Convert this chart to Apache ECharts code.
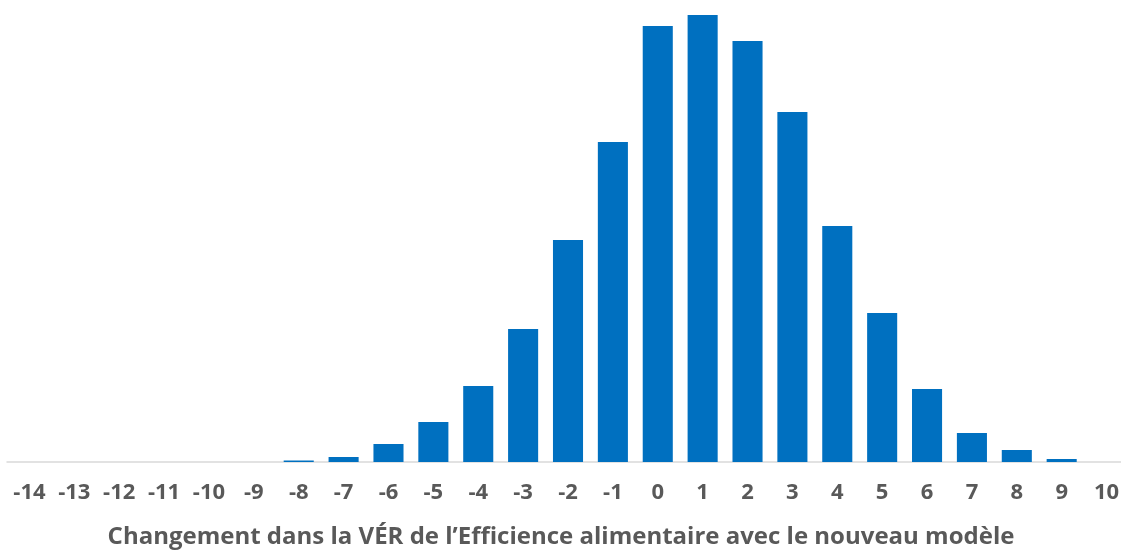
<!DOCTYPE html>
<html><head><meta charset="utf-8">
<script src="https://cdn.jsdelivr.net/npm/echarts@6/dist/echarts.min.js"></script>
<style>html,body{margin:0;padding:0;background:#fff}#c{width:1121px;height:552px}</style>
</head><body><div id="c"></div>
<script>
const categories = ['-14','-13','-12','-11','-10','-9','-8','-7','-6','-5','-4','-3','-2','-1','0','1','2','3','4','5','6','7','8','9','10'];
const values = [0,0,0,0,0,0,1.5,5,18,40,76,133,222,320,436,447,421,350,236,149,73,29,12,3,0];
const axisTitle = 'Changement dans la VÉR de l’Efficience alimentaire avec le nouveau modèle';
const chart = echarts.init(document.getElementById('c'));
chart.setOption({
  animation:false,
  grid:{left:7,top:12,width:1122,bottom:90,containLabel:false,outerBoundsMode:'none'},
  xAxis:{type:'category',data:categories,
    axisLine:{lineStyle:{color:'#d9d9d9',width:1.5}},axisTick:{show:false},
    axisLabel:{color:'#595959',fontSize:22,fontWeight:'bold',fontFamily:'Open Sans',margin:20,interval:0},
    name:axisTitle,nameLocation:'middle',nameGap:63,
    nameTextStyle:{color:'#595959',fontSize:24,fontWeight:'bold',fontFamily:'Open Sans',padding:[0,0,0,-14]}},
  yAxis:{type:'value',min:0,max:450,show:false,splitLine:{show:false}},
  series:[{type:'bar',data:values,barCategoryGap:'33%',itemStyle:{color:'#0070C0'}}]
});
</script></body></html>
